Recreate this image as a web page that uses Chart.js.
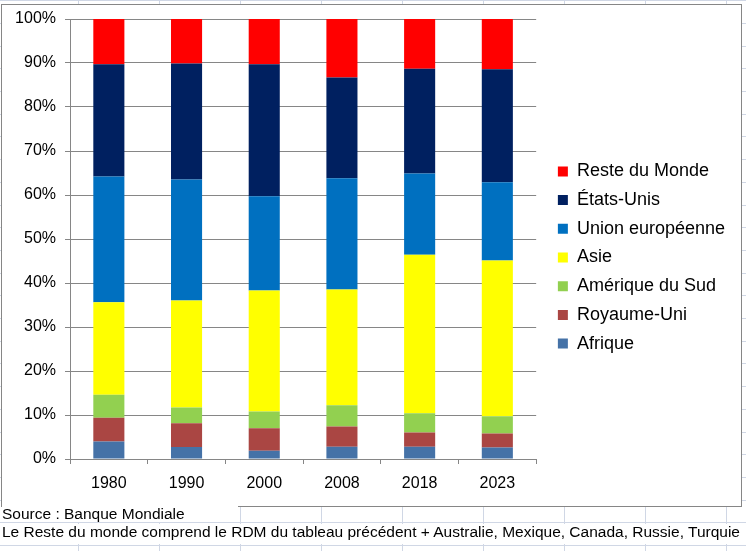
<!DOCTYPE html>
<html lang="fr">
<head>
<meta charset="utf-8">
<title>Répartition</title>
<script src="https://cdn.jsdelivr.net/npm/chart.js@4/dist/chart.umd.min.js"></script>
<style>
  html, body { margin: 0; padding: 0; }
  body {
    width: 746px; height: 551px; position: relative; overflow: hidden;
    background: #fff; font-family: "Liberation Sans", Arial, sans-serif; color: #000;
  }
  #sheet { position: absolute; left: 0; top: 0; }
  #box {
    position: absolute; left: 1px; top: 4px; width: 739px; height: 501px;
    border: 1px solid #868686; background: #fff;
  }
  #box canvas { display: block; }
  .note {
    position: absolute; left: 2px; font-size: 15.5px; line-height: 16px;
    background: #fff; white-space: nowrap;
  }
  #src { top: 506px; width: 236px; }
  #rdm { top: 524px; width: 744px; height: 20px; }
</style>
</head>
<body>
<canvas id="sheet" width="746" height="551"></canvas>
<div id="box"><canvas id="chart" width="739" height="501"></canvas></div>
<div class="note" id="src">Source : Banque Mondiale</div>
<div class="note" id="rdm">Le Reste du monde comprend le RDM du tableau précédent + Australie, Mexique, Canada, Russie, Turquie</div>

<script>
const years = ["1980", "1990", "2000", "2008", "2018", "2023"];
const yTickLabels = ["0%", "10%", "20%", "30%", "40%", "50%", "60%", "70%", "80%", "90%", "100%"];

// parts in % (bottom to top)
const afrique      = [4.0, 2.7, 1.9, 2.8, 2.8, 2.6];
const royaumeUni   = [5.4, 5.4, 5.1, 4.6, 3.2, 3.2];
const ameriqueSud  = [5.2, 3.6, 3.8, 4.8, 4.4, 3.9];
const asie         = [21.0, 24.3, 27.5, 26.3, 36.0, 35.4];
const unionEuro    = [28.6, 27.5, 21.4, 25.3, 18.5, 17.8];
const etatsUnis    = [25.5, 26.4, 30.0, 22.9, 23.8, 25.7];
const resteMonde   = [10.3, 10.1, 10.3, 13.3, 11.3, 11.4];

// spreadsheet grid behind the chart
const g = document.getElementById("sheet").getContext("2d");
g.fillStyle = "#d0d7e5";
for (let x = 78; x < 746; x += 81) g.fillRect(x, 0, 1, 551);
for (let y = 545; y > 0; y -= 22.7) g.fillRect(0, Math.round(y), 746, 1);

const font = "'Liberation Sans', Arial, sans-serif";
const gridGrey = "#868686";

function serie(label, data, color) {
  return { label: label, data: data, backgroundColor: color, borderWidth: 0,
           barPercentage: 0.4, categoryPercentage: 1 };
}

new Chart(document.getElementById("chart"), {
  type: "bar",
  data: {
    labels: years,
    datasets: [
      serie("Afrique", afrique, "#4572a7"),
      serie("Royaume-Uni", royaumeUni, "#aa4643"),
      serie("Amérique du Sud", ameriqueSud, "#92d050"),
      serie("Asie", asie, "#ffff00"),
      serie("Union européenne", unionEuro, "#0070c0"),
      serie("États-Unis", etatsUnis, "#002060"),
      serie("Reste du Monde", resteMonde, "#ff0000")
    ]
  },
  options: {
    responsive: false,
    animation: false,
    layout: { padding: { top: 14, bottom: 10, left: 0, right: 6 } },
    scales: {
      x: {
        stacked: true,
        grid: { color: gridGrey, drawOnChartArea: false, tickLength: 5 },
        border: { color: gridGrey },
        ticks: { color: "#000", padding: 10, font: { family: font, size: 16 } },
        afterFit: s => { s.height = 37; }
      },
      y: {
        stacked: true,
        min: 0, max: 100,
        grid: { color: gridGrey, tickLength: 5 },
        border: { color: gridGrey },
        ticks: {
          stepSize: 10, color: "#000", padding: 9, font: { family: font, size: 16 },
          callback: (v, i) => yTickLabels[i]
        },
        afterFit: s => { s.width = 68; s.paddingTop = 0; s.paddingBottom = 0; }
      },
      // empty axis used as a gap between plot and legend
      gap: {
        position: "right",
        grid: { display: false }, border: { display: false }, ticks: { display: false },
        afterFit: s => { s.width = 11; }
      }
    },
    plugins: {
      tooltip: { enabled: false },
      legend: {
        position: "right",
        align: "center",
        reverse: true,
        maxWidth: 240,
        labels: {
          boxWidth: 10, boxHeight: 10, padding: 10.7, color: "#000",
          font: { family: font, size: 18 }
        }
      }
    }
  }
});
</script>
</body>
</html>
